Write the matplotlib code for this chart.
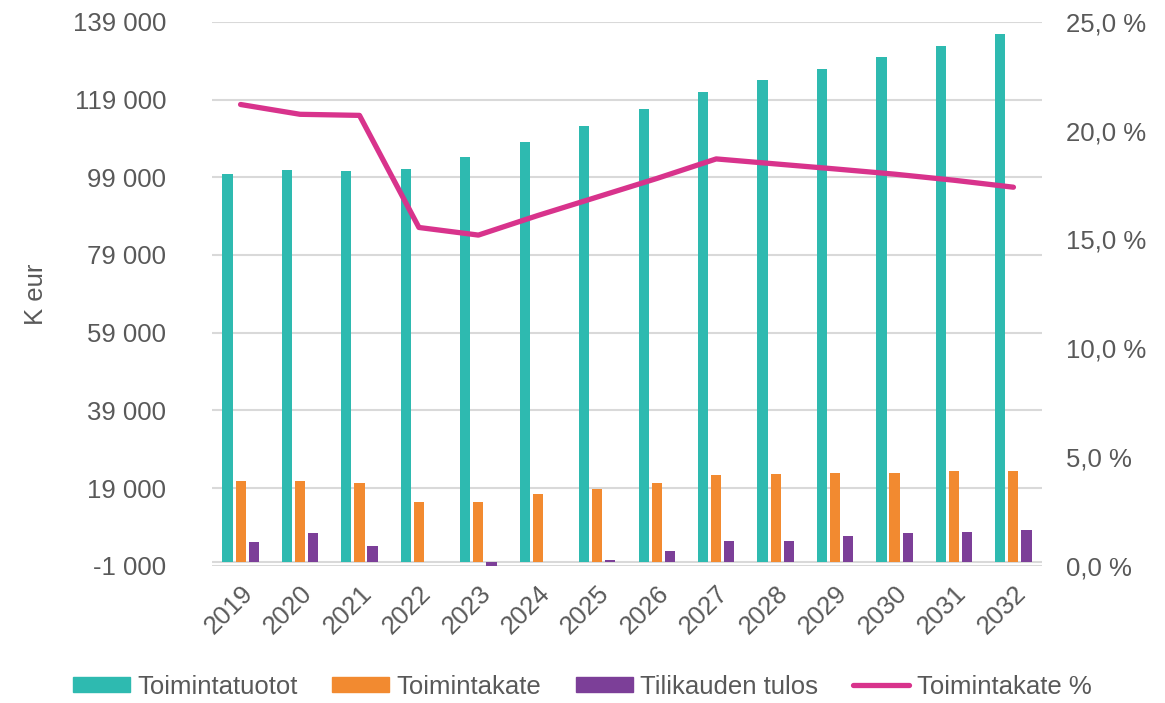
import matplotlib
matplotlib.use("Agg")
import matplotlib.pyplot as plt
from matplotlib.ticker import FuncFormatter, FixedLocator
from matplotlib.patches import Patch
from matplotlib.lines import Line2D
import numpy as np

years = ["2019", "2020", "2021", "2022", "2023", "2024", "2025", "2026",
         "2027", "2028", "2029", "2030", "2031", "2032"]
toimintatuotot = [99800, 100900, 100500, 101200, 104300, 108000, 112100, 116600,
                  121000, 124000, 126900, 129900, 132900, 135900]
toimintakate = [20800, 20800, 20400, 15500, 15500, 17400, 18900, 20400,
                22300, 22700, 23000, 23000, 23400, 23400]
tilikauden_tulos = [5100, 7400, 4100, 0, -1600, 0, 500, 2900,
                    5500, 5500, 6600, 7400, 7750, 8200]
toimintakate_pct = [21.2, 20.75, 20.7, 15.55, 15.2, 16.1, 16.95, 17.8,
                    18.7, 18.47, 18.24, 18.0, 17.72, 17.4]

left_ticks = [-1000, 19000, 39000, 59000, 79000, 99000, 119000, 139000]
right_ticks = [0, 5, 10, 15, 20, 25]

c_teal = "#2EBAB0"
c_orange = "#F28A30"
c_purple = "#7C3F98"
c_pink = "#D8338C"
c_text = "#595959"
c_grid = "#D9D9D9"
fs = 18.5

plt.rcParams['font.family'] = ['Liberation Sans', 'DejaVu Sans']

fig = plt.figure(figsize=(11.65, 7.03), dpi=100)
ax = fig.add_axes([0.182, 0.195, 0.7124, 0.774])
ax2 = ax.twinx()

x = np.arange(len(years))
w = 0.17
off = 0.22
ax.bar(x - off, toimintatuotot, width=w, color=c_teal, zorder=3)
ax.bar(x, toimintakate, width=w, color=c_orange, zorder=3)
ax.bar(x + off, tilikauden_tulos, width=w, color=c_purple, zorder=3)
ax.axhline(0, color=c_grid, lw=1.5, zorder=2)

ax.set_xlim(-0.48, len(years) - 0.52)
ax.set_ylim(-1000, 139000)
ax.yaxis.set_major_locator(FixedLocator(left_ticks))
ax.yaxis.set_major_formatter(FuncFormatter(lambda v, p: f"{int(v):,}".replace(",", " ")))
ax.grid(axis='y', color=c_grid, lw=1.5, zorder=0)
ax.set_axisbelow(True)

ax.set_xticks(x)
ax.set_xticklabels(years, rotation=45, ha='right', rotation_mode='anchor')

ax2.plot(x, toimintakate_pct, color=c_pink, lw=3.8, solid_capstyle='round', zorder=4)
ax2.set_ylim(0, 25)
ax2.yaxis.set_major_locator(FixedLocator(right_ticks))
ax2.yaxis.set_major_formatter(FuncFormatter(lambda v, p: f"{v:.1f}".replace(".", ",") + " %"))

for a in (ax, ax2):
    for s in a.spines.values():
        s.set_visible(False)
    a.tick_params(length=0, colors=c_text, labelsize=fs)
ax.tick_params(axis='y', pad=33)
ax2.tick_params(axis='y', pad=17)
ax.tick_params(axis='x', pad=11)

ax.set_ylabel("K eur", color=c_text, fontsize=fs, labelpad=18)

handles = [Patch(color=c_teal), Patch(color=c_orange), Patch(color=c_purple),
           Line2D([0], [0], color=c_pink, lw=3.8, solid_capstyle='round')]
labels = ["Toimintatuotot", "Toimintakate", "Tilikauden tulos", "Toimintakate %"]
fig.legend(handles, labels, loc='center', bbox_to_anchor=(0.5, 0.023), ncol=4,
           frameon=False, fontsize=fs, labelcolor=c_text, handlelength=2.2,
           handleheight=0.55, handletextpad=0.3, columnspacing=1.35)

fig.savefig("out.png", dpi=100)
